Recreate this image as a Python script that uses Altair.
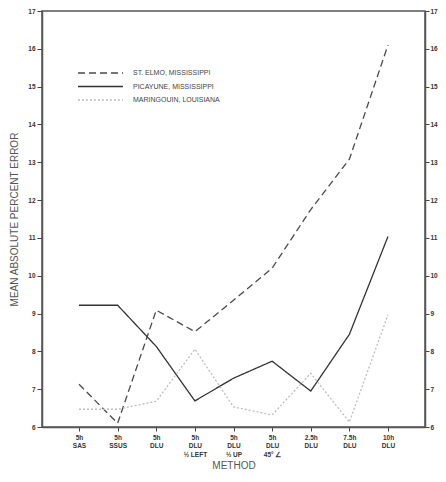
import json
import altair as alt
import pandas as pd

methods = [
    ["5h", "SAS"],
    ["5h", "SSUS"],
    ["5h", "DLU"],
    ["5h", "DLU", "½ LEFT"],
    ["5h", "DLU", "½ UP"],
    ["5h", "DLU", "45° ∠"],
    ["2.5h", "DLU"],
    ["7.5h", "DLU"],
    ["10h", "DLU"],
]
series_names = ["ST. ELMO, MISSISSIPPI", "PICAYUNE, MISSISSIPPI", "MARINGOUIN, LOUISIANA"]
st_elmo = [7.13, 6.1, 9.09, 8.52, 9.35, 10.2, 11.75, 13.08, 16.1]
picayune = [9.22, 9.22, 8.13, 6.69, 7.29, 7.74, 6.95, 8.45, 11.04]
maringouin = [6.47, 6.47, 6.68, 8.06, 6.53, 6.32, 7.42, 6.13, 8.97]

# styles (kept apart from data)
line_colors = ["#4a4a4a", "#333333", "#bdbdbd"]
line_dashes = [[7, 4], [1, 0], [2, 2]]

rows = []
for name, vals in zip(series_names, [st_elmo, picayune, maringouin]):
    for i, v in enumerate(vals):
        rows.append({"idx": i, "value": v, "site": name})
df = pd.DataFrame(rows)

label_expr = json.dumps(methods, ensure_ascii=False) + "[datum.value]"
FONT = "Liberation Sans"
INK = "#444444"

xscale = alt.Scale(domain=[-0.958, 8.958], nice=False, zero=False)
yscale = alt.Scale(domain=[6, 17], nice=False, zero=False)

xaxis = alt.Axis(
    values=list(range(len(methods))), labelExpr=label_expr, title="METHOD",
    grid=False, tickSize=4, tickColor=INK, domainColor="#555555", domainWidth=1.5,
    labelFontSize=6.5, labelFont=FONT, labelColor="#333333", labelFontWeight="bold",
    labelLineHeight=8.5, labelPadding=3, labelAngle=0,
    titleFontSize=10, titleFont=FONT, titleFontWeight="normal", titleColor="#555555",
    titlePadding=3,
)

def yaxis(orient):
    return alt.Axis(
        orient=orient, values=list(range(6, 18)), grid=False,
        tickSize=5 if orient == "left" else 4,
        tickColor=INK, domainColor="#555555", domainWidth=1.5,
        labelFontSize=6.5, labelFont=FONT, labelColor="#333333", labelFontWeight="bold",
        labelPadding=2 if orient == "left" else 1,
        title="MEAN ABSOLUTE PERCENT ERROR" if orient == "left" else None,
        titleFontSize=10, titleFont=FONT, titleFontWeight="normal", titleColor="#555555",
        titlePadding=8,
    )

lines = alt.Chart(df).mark_line(strokeWidth=1.3).encode(
    x=alt.X("idx:Q", scale=xscale, axis=xaxis),
    y=alt.Y("value:Q", scale=yscale, axis=yaxis("left")),
    color=alt.Color("site:N", scale=alt.Scale(domain=series_names, range=line_colors), legend=None),
    strokeDash=alt.StrokeDash("site:N", scale=alt.Scale(domain=series_names, range=line_dashes), legend=None),
    detail="site:N",
)

right = alt.Chart(df).mark_line(opacity=0).encode(
    x=alt.X("idx:Q", scale=xscale, axis=xaxis),
    y=alt.Y("value:Q", scale=yscale, axis=yaxis("right")),
    detail="site:N",
)

# hand-drawn legend (inside the plot, upper left)
one = pd.DataFrame({"k": [0]})
legend_layers = []
for i, name in enumerate(series_names):
    yy = 62 + i * 13.5
    legend_layers.append(
        alt.Chart(one).mark_rule(
            color=line_colors[i], strokeDash=line_dashes[i], strokeWidth=1.3
        ).encode(x=alt.value(36), x2=alt.value(81), y=alt.value(yy))
    )
    legend_layers.append(
        alt.Chart(one).mark_text(
            align="left", baseline="middle", font=FONT, fontSize=7, color="#444444", text=name
        ).encode(x=alt.value(91), y=alt.value(yy))
    )

chart = (
    alt.layer(lines, right, *legend_layers)
    .resolve_axis(y="independent")
    .properties(
        width=383, height=416,
        autosize=alt.AutoSizeParams(type="none"),
        padding={"left": 34, "top": 3, "right": 13, "bottom": 47},
        background="white",
    )
    .configure_view(stroke="#555555", strokeWidth=1.5)
)

chart.save("out.html", embed_options={"renderer": "svg", "actions": False})
